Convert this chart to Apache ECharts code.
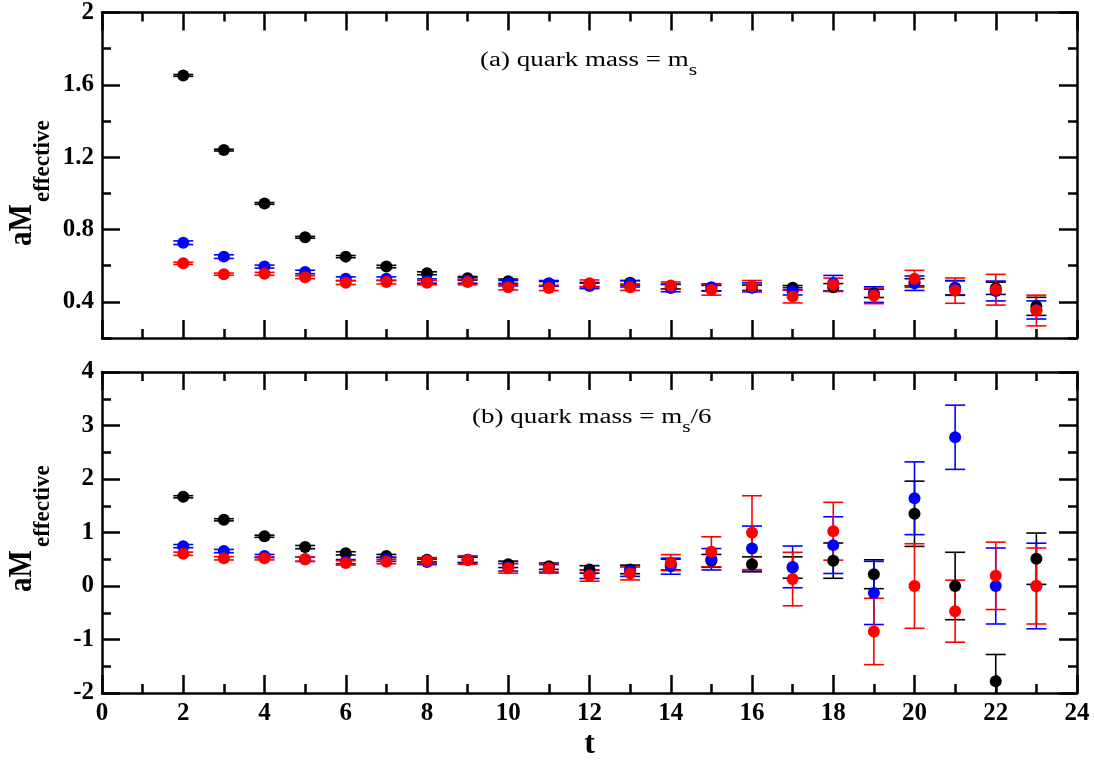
<!DOCTYPE html>
<html><head><meta charset="utf-8">
<script src="https://cdn.jsdelivr.net/npm/echarts@6/dist/echarts.min.js"></script>
<style>html,body{margin:0;padding:0;background:#fff}#c{width:1094px;height:762px}</style>
</head><body><div id="c"></div>
<script>
// ---- data ----
const tValues = [2,3,4,5,6,7,8,9,10,11,12,13,14,15,16,17,18,19,20,21,22,23];
// panel (a): quark mass = m_s
const blackA    = [1.652,1.239,0.944,0.757,0.650,0.595,0.558,0.530,0.514,0.500,0.495,0.505,0.485,0.476,0.478,0.478,0.481,0.447,0.508,0.478,0.475,0.375];
const blackErrA = [0.005,0.005,0.005,0.005,0.006,0.007,0.008,0.010,0.012,0.012,0.012,0.012,0.013,0.015,0.015,0.012,0.020,0.023,0.020,0.040,0.034,0.050];
const blueA     = [0.727,0.650,0.595,0.565,0.528,0.528,0.515,0.518,0.503,0.503,0.488,0.500,0.476,0.480,0.480,0.458,0.503,0.440,0.503,0.476,0.460,0.355];
const blueErrA  = [0.010,0.010,0.008,0.010,0.010,0.010,0.012,0.015,0.015,0.015,0.015,0.018,0.020,0.020,0.025,0.020,0.043,0.043,0.040,0.040,0.055,0.050];
const redA      = [0.613,0.553,0.555,0.536,0.506,0.509,0.506,0.509,0.481,0.477,0.503,0.481,0.490,0.467,0.488,0.429,0.494,0.433,0.527,0.462,0.467,0.352];
const redErrA   = [0.006,0.006,0.008,0.008,0.010,0.010,0.012,0.015,0.015,0.015,0.018,0.018,0.020,0.030,0.030,0.035,0.037,0.043,0.047,0.070,0.085,0.085];
// panel (b): quark mass = m_s/6
const blackB    = [1.668,1.237,0.93,0.727,0.61,0.56,0.49,0.49,0.405,0.37,0.31,0.31,0.40,0.47,0.405,0.345,0.474,0.22,1.35,0,-1.78,0.51];
const blackErrB = [0.02,0.02,0.02,0.03,0.03,0.03,0.04,0.05,0.06,0.06,0.07,0.08,0.10,0.12,0.14,0.20,0.33,0.27,0.61,0.63,0.50,0.48];
const blueB     = [0.745,0.653,0.56,0.50,0.455,0.50,0.45,0.49,0.35,0.33,0.22,0.28,0.37,0.50,0.70,0.357,0.764,-0.13,1.64,2.78,0,0];
const blueErrB  = [0.03,0.03,0.03,0.04,0.04,0.04,0.05,0.06,0.07,0.07,0.08,0.10,0.15,0.20,0.42,0.39,0.53,0.59,0.68,0.60,0.71,0.80];
const redB      = [0.603,0.517,0.517,0.50,0.43,0.455,0.47,0.486,0.33,0.33,0.19,0.234,0.437,0.64,0.997,0.13,1.024,-0.85,0,-0.47,0.19,0];
const redErrB   = [0.03,0.03,0.03,0.04,0.04,0.04,0.05,0.08,0.09,0.09,0.10,0.12,0.15,0.28,0.69,0.50,0.54,0.62,0.79,0.58,0.63,0.71];
// ticks
const yMajorA = [0.4,0.8,1.2,1.6,2.0];
const yMinorA = [0.2,0.6,1.0,1.4,1.8];
const titleA = '(a) quark mass = m';
const titleB = '(b) quark mass = m';

// ---- chart ----
const chart = echarts.init(document.getElementById('c'));
const FONT = '"Liberation Serif", "Times New Roman", serif';
const lineSt = {color:'#000', width:2.5};
const labelSt = {show:true, color:'#000', fontFamily:FONT, fontWeight:'bold', fontSize:25};

function xAx(grid, pos, labels) {
  const a = {type:'value', gridIndex:grid, position:pos, min:0, max:24, interval:2,
    axisLine:{show:true, onZero:false, lineStyle:lineSt},
    axisTick:{show:true, inside:true, length:18, lineStyle:lineSt},
    minorTick:{show:true, splitNumber:2, length:9, lineStyle:lineSt},
    splitLine:{show:false}, minorSplitLine:{show:false},
    axisLabel: labels ? Object.assign({margin:8}, labelSt) : {show:false}};
  if (labels) {
    a.name = 't'; a.nameLocation = 'middle'; a.nameGap = 36;
    a.nameTextStyle = {color:'#000', fontFamily:FONT, fontWeight:'bold', fontSize:32};
  }
  return a;
}
function yAxA(pos, ticks, len, labels, line) {
  return {type:'value', gridIndex:0, position:pos, min:0.2, max:2.0,
    axisLine:{show:line, onZero:false, lineStyle:lineSt},
    axisTick:{show:true, inside:true, length:len, customValues:ticks, lineStyle:lineSt},
    splitLine:{show:false},
    axisLabel: labels ? Object.assign({margin:8, customValues:ticks,
      formatter:v=>String(+(+v).toFixed(1))}, labelSt) : {show:false}};
}
function yAxB(pos, labels) {
  return {type:'value', gridIndex:1, position:pos, min:-2, max:4, interval:1,
    axisLine:{show:true, onZero:false, lineStyle:lineSt},
    axisTick:{show:true, inside:true, length:18, lineStyle:lineSt},
    minorTick:{show:true, splitNumber:2, length:9, lineStyle:lineSt},
    splitLine:{show:false}, minorSplitLine:{show:false},
    axisLabel: labels ? Object.assign({margin:8}, labelSt) : {show:false}};
}

function errSeries(vals, errs, color, xi, yi, yMin) {
  return {type:'custom', xAxisIndex:xi, yAxisIndex:yi, silent:true, animation:false,
    data: tValues.map((t,i)=>[t, vals[i], errs[i]]),
    renderItem(params, api) {
      const t = api.value(0), v = api.value(1), e = api.value(2);
      const clipped = (v - e) < yMin;
      const top = api.coord([t, v + e]);
      const bot = api.coord([t, clipped ? yMin : v - e]);
      const st = {stroke:color, lineWidth:1.6};
      const ch = [
        {type:'line', shape:{x1:top[0], y1:top[1], x2:bot[0], y2:bot[1]}, style:st},
        {type:'line', shape:{x1:top[0]-10, y1:top[1], x2:top[0]+10, y2:top[1]}, style:st}
      ];
      if (!clipped) ch.push({type:'line', shape:{x1:bot[0]-10, y1:bot[1], x2:bot[0]+10, y2:bot[1]}, style:st});
      return {type:'group', children:ch};
    }};
}
function ptSeries(vals, color, xi, yi) {
  return {type:'scatter', xAxisIndex:xi, yAxisIndex:yi, symbol:'circle', symbolSize:12,
    silent:true, animation:false, itemStyle:{color:color, opacity:1},
    data: tValues.map((t,i)=>[t, vals[i]])};
}

const series = [
  errSeries(blackA, blackErrA, '#000000', 0, 0, 0.2), ptSeries(blackA, '#000000', 0, 0),
  errSeries(blueA, blueErrA, '#0000ff', 0, 0, 0.2),   ptSeries(blueA, '#0000ff', 0, 0),
  errSeries(redA, redErrA, '#ff0000', 0, 0, 0.2),     ptSeries(redA, '#ff0000', 0, 0),
  errSeries(blackB, blackErrB, '#000000', 2, 4, -2), ptSeries(blackB, '#000000', 2, 4),
  errSeries(blueB, blueErrB, '#0000ff', 2, 4, -2),   ptSeries(blueB, '#0000ff', 2, 4),
  errSeries(redB, redErrB, '#ff0000', 2, 4, -2),     ptSeries(redB, '#ff0000', 2, 4)
];

const titleRich = {
  m:{fontFamily:FONT, fontSize:20, lineHeight:36, color:'#000'},
  s:{fontFamily:FONT, fontSize:16, lineHeight:16, verticalAlign:'bottom', color:'#000'}
};
function yName(y0, y1) {
  return [
    {type:'text', x:22, y:y0, rotation:Math.PI/2, scaleX:0.85,
     style:{text:'aM', fontFamily:FONT, fontWeight:'bold', fontSize:34, fill:'#000', align:'left', verticalAlign:'middle'}},
    {type:'text', x:43, y:y1, rotation:Math.PI/2,
     style:{text:'effective', fontFamily:FONT, fontWeight:'bold', fontSize:23, fill:'#000', align:'left', verticalAlign:'middle'}}
  ];
}

chart.setOption({
  animation:false,
  backgroundColor:'#fff',
  grid:[
    {left:102, top:12, width:975, height:326},
    {left:102, top:372, width:975, height:325}
  ],
  xAxis:[xAx(0,'bottom',false), xAx(0,'top',false), xAx(1,'bottom',true), xAx(1,'top',false)],
  yAxis:[
    yAxA('left', yMajorA, 18, true, true), yAxA('left', yMinorA, 9, false, false),
    yAxA('right', yMajorA, 18, false, true), yAxA('right', yMinorA, 9, false, false),
    yAxB('left', true), yAxB('right', false)
  ],
  series: series,
  graphic:[
    {type:'text', x:480, y:61, scaleX:1.35,
     style:{text:'{m|' + titleA + '}{s|s}', rich:titleRich, align:'left', verticalAlign:'middle'}},
    {type:'text', x:472, y:418, scaleX:1.35,
     style:{text:'{m|' + titleB + '}{s|s}{m|/6}', rich:titleRich, align:'left', verticalAlign:'middle'}}
  ].concat(yName(246, 202), yName(592, 547))
});
</script>
</body></html>
